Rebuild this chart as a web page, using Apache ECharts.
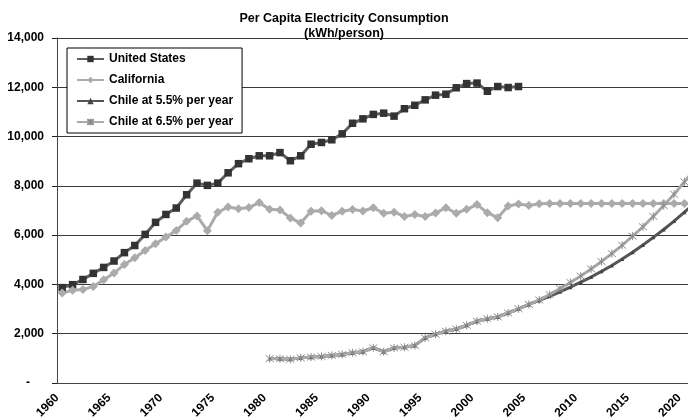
<!DOCTYPE html>
<html>

<head>
    <meta charset="utf-8">
    <script src="https://cdn.jsdelivr.net/npm/echarts@6/dist/echarts.min.js"></script>
    <style>
        html, body { margin: 0; padding: 0; background: #fff; }
    </style>
</head>

<body>
    <div id="main" style="width:688px;height:417px;"></div>

    <script>
        // x categories, one per year (last one runs off the right edge like the original)
        var firstYear = 1960;
        var lastYear = 2021;
        var yTicks = [0, 2000, 4000, 6000, 8000, 10000, 12000, 14000];

        // kWh/person
        var usStart = 1960;
        var usValues = [3870, 3990, 4200, 4450, 4690, 4950, 5290, 5580, 6030, 6520,
            6840, 7100, 7640, 8110, 8020, 8110, 8530, 8900, 9100, 9220,
            9220, 9350, 9020, 9220, 9690, 9760, 9870, 10110, 10540, 10720,
            10900, 10950, 10830, 11130, 11270, 11490, 11680, 11720, 11980, 12150,
            12170, 11840, 12030, 11990, 12030];

        var caStart = 1960;
        var caValues = [3650, 3760, 3790, 3920, 4190, 4460, 4810, 5080, 5380, 5650,
            5920, 6190, 6560, 6780, 6180, 6930, 7140, 7070, 7120, 7320,
            7050, 7020, 6700, 6490, 6970, 6990, 6800, 6970, 7040, 6980,
            7110, 6890, 6930, 6760, 6840, 6760, 6900, 7110, 6890, 7050,
            7240, 6910, 6710, 7180, 7260, 7200, 7270, 7280, 7280, 7280,
            7280, 7280, 7280, 7280, 7280, 7280, 7280, 7280, 7280, 7280,
            7280, 7280];

        // Chile history 1980-2005, shared by both projections
        var chileStart = 1980;
        var chileActual = [990, 985, 960, 1020, 1050, 1080, 1120, 1160, 1230, 1270,
            1430, 1270, 1420, 1450, 1520, 1830, 1980, 2100, 2190, 2340,
            2510, 2610, 2680, 2840, 3010, 3190];
        // projections 2006-2021
        var chile55 = [3350, 3520, 3700, 3890, 4090, 4300, 4530, 4770, 5030, 5310,
            5600, 5910, 6230, 6570, 6930, 7310];
        var chile65 = [3370, 3590, 3830, 4080, 4340, 4630, 4930, 5250, 5590, 5960,
            6340, 6760, 7200, 7660, 8160, 8690];

        var years = [];
        for (var yr = firstYear; yr <= lastYear; yr++) years.push(String(yr));

        function pad(start, values) {
            return years.map(function (y) {
                var i = +y - start;
                return (i >= 0 && i < values.length) ? values[i] : null;
            });
        }

        var font = 'Arial, "Liberation Sans", sans-serif';
        var star = 'path://M0,0L10,10M10,0L0,10M5,-1L5,11';

        var myChart = echarts.init(document.getElementById('main'));
        var option = {
            animation: false,
            backgroundColor: '#fff',
            title: {
                text: 'Per Capita Electricity Consumption\n(kWh/person)',
                left: 'center',
                top: 6,
                textStyle: {
                    fontFamily: font,
                    fontWeight: 'bold',
                    fontSize: 12.5,
                    lineHeight: 15,
                    color: '#000'
                }
            },
            legend: {
                orient: 'vertical',
                left: 67,
                top: 48,
                padding: [4, 9, 4, 9],
                itemGap: 7,
                itemWidth: 27,
                itemHeight: 8,
                borderColor: '#000',
                borderWidth: 1,
                backgroundColor: '#fff',
                textStyle: {
                    fontFamily: font,
                    fontWeight: 'bold',
                    fontSize: 12,
                    lineHeight: 14,
                    color: '#000'
                },
                data: ['United States', 'California', 'Chile at 5.5% per year', 'Chile at 6.5% per year']
            },
            grid: {
                left: 57,
                top: 38,
                width: 643,
                bottom: 34,
                containLabel: false,
                outerBoundsMode: 'none'
            },
            xAxis: {
                type: 'category',
                data: years,
                boundaryGap: true,
                axisLine: { lineStyle: { color: '#444', width: 1 } },
                axisTick: { interval: 0, length: 5, lineStyle: { color: '#222' } },
                axisLabel: {
                    interval: 4,
                    rotate: 45,
                    margin: 8,
                    padding: [0, 7, 0, 0],
                    fontFamily: font,
                    fontWeight: 'bold',
                    fontSize: 12,
                    color: '#000'
                },
                splitLine: { show: false }
            },
            yAxis: {
                type: 'value',
                min: yTicks[0],
                max: yTicks[yTicks.length - 1],
                interval: 2000,
                axisLine: { show: true, lineStyle: { color: '#444', width: 1 } },
                axisTick: { show: true, length: 5, lineStyle: { color: '#222' } },
                splitLine: { lineStyle: { color: '#3a3a3a', width: 1 } },
                axisLabel: {
                    margin: 13,
                    fontFamily: font,
                    fontWeight: 'bold',
                    fontSize: 12,
                    color: '#000',
                    formatter: function (v) {
                        if (v === 0) return '{z|-}';
                        return v.toLocaleString('en-US');
                    },
                    rich: {
                        z: { fontFamily: font, fontWeight: 'bold', fontSize: 12, color: '#000', padding: [0, 14, 0, 0] }
                    }
                }
            },
            series: [
                {
                    name: 'United States',
                    type: 'line',
                    data: pad(usStart, usValues),
                    symbol: 'rect',
                    symbolSize: 7.5,
                    showAllSymbol: true,
                    lineStyle: { color: '#5e5e5e', width: 3 },
                    itemStyle: { color: '#333' }
                },
                {
                    name: 'California',
                    type: 'line',
                    data: pad(caStart, caValues),
                    symbol: 'diamond',
                    symbolSize: 9,
                    showAllSymbol: true,
                    lineStyle: { color: '#ababab', width: 3 },
                    itemStyle: { color: '#ababab' }
                },
                {
                    name: 'Chile at 5.5% per year',
                    type: 'line',
                    data: pad(chileStart, chileActual.concat(chile55)),
                    symbol: 'triangle',
                    symbolSize: 4,
                    showAllSymbol: true,
                    lineStyle: { color: '#555', width: 3 },
                    itemStyle: { color: '#444' }
                },
                {
                    name: 'Chile at 6.5% per year',
                    type: 'line',
                    data: pad(chileStart, chileActual.concat(chile65)),
                    symbol: star,
                    symbolSize: 8,
                    showAllSymbol: true,
                    lineStyle: { color: '#ababab', width: 3 },
                    itemStyle: { color: '#ababab', borderColor: '#8c8c8c', borderWidth: 1 }
                }
            ]
        };

        myChart.setOption(option);
    </script>
</body>

</html>
